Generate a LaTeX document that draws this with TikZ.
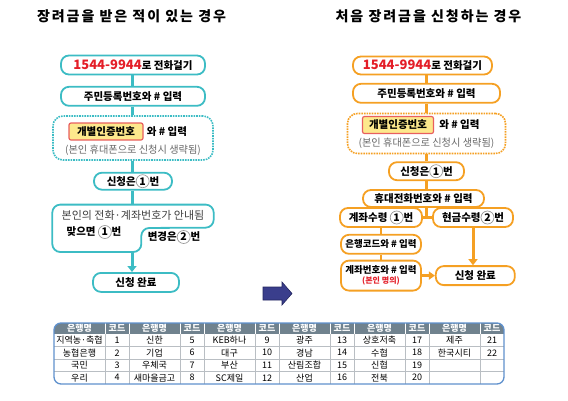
\documentclass[tikz,border=0pt]{standalone}
\usepackage{fontspec}
\setmainfont{Noto Sans CJK KR}
\newfontfamily\titlefont{Noto Sans CJK KR}[LetterSpace=14]
\usetikzlibrary{positioning, calc, arrows.meta}
\definecolor{tealline}{RGB}{60,188,196}
\definecolor{orangeline}{RGB}{245,160,35}
\definecolor{keyyellow}{RGB}{253,232,140}
\definecolor{keyred}{RGB}{232,95,95}
\definecolor{numred}{RGB}{228,30,40}
\definecolor{notegray}{RGB}{105,105,105}
\definecolor{navyblue}{RGB}{58,62,140}
\definecolor{navydark}{RGB}{35,38,95}
\definecolor{headgray}{RGB}{112,130,142}
\definecolor{tabline}{RGB}{185,190,195}
\definecolor{tabborder}{RGB}{95,145,205}
\newcommand\flowfont{\fontsize{10.5}{12.5}\selectfont\bfseries}
\newcommand\smallflowfont{\fontsize{9.5}{11}\selectfont\bfseries}
\newcommand\hintfont{\fontsize{10.2}{12}\selectfont}
\newcommand\tabfont{\fontsize{9}{10}\selectfont}
\newcommand\numcirc[1]{\tikz[baseline=(nc.base)]\node[circle, draw=black!40, line width=0.7pt, inner sep=0.6pt, minimum size=13pt] (nc) {#1};}

\begin{document}
\begin{tikzpicture}[x=1pt, y=-1pt,
        lbox/.style={rectangle, draw=tealline, fill=white, line width=1.8pt, rounded corners=8pt, inner sep=0pt, align=center, font=\flowfont},
        rbox/.style={lbox, draw=orangeline},
        ldots/.style={rectangle, draw=tealline, densely dotted, line width=1.6pt, rounded corners=10pt, inner sep=0pt},
        rdots/.style={ldots, draw=orangeline},
        keybox/.style={rectangle, draw=keyred, fill=keyyellow, line width=1.2pt, rounded corners=2pt, minimum height=17pt, inner sep=0pt, font=\flowfont},
        lconn/.style={draw=tealline, line width=3pt},
        rconn/.style={draw=orangeline, line width=3pt},
        hint/.style={font=\hintfont, text=notegray, inner sep=0pt},
        plain/.style={font=\flowfont, inner sep=0pt},
        cell/.style={font=\tabfont, inner sep=0pt},
        headcell/.style={font=\tabfont\bfseries, text=white, inner sep=0pt},
    ]
        \useasboundingbox (0,0) rectangle (568,400);

        % titles
        \node[font=\titlefont\bfseries\fontsize{14}{16}\selectfont] (LT) at (131.5,16) {장려금을 받은 적이 있는 경우};
        \node[font=\titlefont\bfseries\fontsize{14}{16}\selectfont] (RT) at (428.5,16) {처음 장려금을 신청하는 경우};

        % left flow
        \node[lbox, minimum width=144pt, minimum height=19pt] (L1) at (133,65) {{\color{numred}\fontsize{13}{15}\selectfont 1544-9944}로 전화걸기};
        \node[lbox, minimum width=144pt, minimum height=19pt, below=10.5pt of L1] (L2) {주민등록번호와 \# 입력};
        \node[ldots, minimum width=160pt, minimum height=44pt, below=8.5pt of L2] (L3) {};
        \node[keybox, minimum width=74pt] (L3K) at ($(L3.center)+(-27,-6.5)$) {개별인증번호};
        \node[plain, right=3pt of L3K] (L3T) {와 \# 입력};
        \node[hint] (L3H) at ($(L3.center)+(0,12)$) {(본인 휴대폰으로 신청시 생략됨)};
        \node[lbox, minimum width=78pt, minimum height=17pt, below=11pt of L3] (L4) {신청은\numcirc{1}번};
        \node[minimum width=161pt, minimum height=47pt, inner sep=0pt, below=14pt of L4] (L5) {};
        \draw[tealline, line width=1.8pt, rounded corners=8pt] (L5.north west) -- (L5.north east) -- ($(L5.north east)+(0,23)$) -- ($(L5.south west)+(89,-24)$) -- ($(L5.south west)+(89,0)$) -- (L5.south west) -- cycle;
        \node[font=\fontsize{11}{13}\selectfont, text=black!75, inner sep=0pt] (L5A) at ($(L5.north)+(0,11)$) {본인의 전화·계좌번호가 안내됨};
        \node[plain] (L5B) at (94,232) {맞으면 \numcirc{1}번};
        \node[plain] (L5C) at (174,237) {변경은\numcirc{2}번};
        \node[lbox, minimum width=86pt, minimum height=19pt, below=20pt of L5, xshift=3pt] (L6) {신청 완료};

        \coordinate (LX) at (132,0);
        \draw[lconn] (L1.south -| LX) -- (L2.north -| LX);
        \draw[lconn] (L2.south -| LX) -- (L3.north -| LX);
        \draw[lconn] (L3.south -| LX) -- (L4.north -| LX);
        \draw[lconn] (L4.south -| LX) -- (L5.north -| LX);
        \draw[lconn, -{Triangle[width=9pt,length=6pt]}] (L5.south -| LX) -- (L6.north -| LX);

        % right flow
        \node[rbox, minimum width=139pt, minimum height=18pt] (R1) at (422.5,65.5) {{\color{numred}\fontsize{13}{15}\selectfont 1544-9944}로 전화걸기};
        \node[rbox, minimum width=147pt, minimum height=19pt, below=7.5pt of R1, xshift=4pt] (R2) {주민등록번호와 \# 입력};
        \node[rdots, minimum width=158pt, minimum height=40pt, below=9pt of R2] (R3) {};
        \node[keybox, minimum width=71pt] (R3K) at ($(R3.center)+(-28.5,-8.5)$) {개별인증번호};
        \node[plain, right=5pt of R3K] (R3T) {와 \# 입력};
        \node[hint] (R3H) at ($(R3.center)+(0,10)$) {(본인 휴대폰으로 신청시 생략됨)};
        \node[rbox, minimum width=75pt, minimum height=18pt, below=7pt of R3] (R4) {신청은\numcirc{1}번};
        \node[rbox, minimum width=121pt, minimum height=17pt, below=8pt of R4, xshift=-3pt] (R5) {휴대전화번호와 \# 입력};
        \node[rbox, minimum width=82pt, minimum height=19pt] (R6A) at (381,217.5) {계좌수령 \numcirc{1}번};
        \node[rbox, minimum width=80pt, minimum height=19pt] (R6B) at (473,217.5) {현금수령\numcirc{2}번};
        \node[rbox, minimum width=80pt, minimum height=19pt, font=\smallflowfont, below=6pt of R6A] (R7) {은행코드와 \# 입력};
        \node[rbox, minimum width=80pt, minimum height=30pt, font=\smallflowfont, below=5pt of R7] (R8) {계좌번호와 \# 입력\\[-1pt]{\color{numred}\fontsize{8}{9}\selectfont (본인 명의)}};
        \node[rbox, minimum width=79pt, minimum height=19pt, right=13pt of R8] (R9) {신청 완료};

        \coordinate (RX) at (426,0);
        \draw[rconn] (R1.south -| RX) -- (R2.north -| RX);
        \draw[rconn] (R2.south -| RX) -- (R3.north -| RX);
        \draw[rconn] (R3.south -| RX) -- (R4.north -| RX);
        \draw[rconn] (R4.south -| RX) -- (R5.north -| RX);
        \draw[rconn] (R5.south -| RX) -- (RX |- R6A.east);
        \draw[rconn] (R6A.east) -- (R6B.west);
        \draw[rconn, line width=2pt] (R6A.south) -- (R6A.south |- R7.north);
        \draw[rconn, line width=2pt] (R7.south) -- (R7.south |- R8.north);
        \draw[rconn, line width=2.5pt, -{Triangle[width=8pt,length=6pt]}] (R8.east) -- (R8.east -| R9.west);
        \draw[rconn, -{Triangle[width=9pt,length=6pt]}] (R6B.south) -- (R6B.south |- R9.north);

        % arrow between the two cases
        \draw[fill=navyblue, draw=navydark, line width=0.6pt] (263,287) -- (282,287) -- (282,282) -- (292,293.5) -- (282,305) -- (282,300) -- (263,300) -- cycle;

        % bank code table
        \begin{scope}
            \clip[rounded corners=7pt] (54,323) rectangle (504,384);
            \fill[headgray] (54,323) rectangle (504,334);
        \end{scope}
        \foreach \gx in {105,129,180,204,255,279,330,354,405,429,480} {
            \draw[white, line width=1pt] (\gx,323) -- (\gx,334);
            \draw[tabline, line width=0.6pt] (\gx,334) -- (\gx,384);
        }
        \foreach \gy in {346.5,359,371.5}
            \draw[tabline, line width=0.6pt] (54,\gy) -- (504,\gy);
        \foreach \p in {0,...,5} {
            \node[headcell] (H-n\p) at (79.5+75*\p,328.5) {은행명};
            \node[headcell] (H-c\p) at (117+75*\p,328.5) {코드};
        }
        \foreach \r/\row in {1/{지역농·축협,1,신한,5,KEB하나,9,광주,13,상호저축,17,제주,21},
                             2/{농협은행,2,기업,6,대구,10,경남,14,수협,18,한국시티,22},
                             3/{국민,3,우체국,7,부산,11,산림조합,15,신협,19},
                             4/{우리,4,새마을금고,8,SC제일,12,산업,16,전북,20}} {
            \foreach \v [count=\k] in \row {
                \pgfmathsetmacro\cellx{54+75*int((\k-1)/2)+ifthenelse(mod(\k-1,2)==0,25.5,63)}
                \node[cell] (T-\r-\k) at (\cellx,327.75+12.5*\r) {\v};
            }
        }
        \draw[tabborder, line width=1.3pt, rounded corners=7pt] (54,323) rectangle (504,384);
    \end{tikzpicture}
\end{document}
